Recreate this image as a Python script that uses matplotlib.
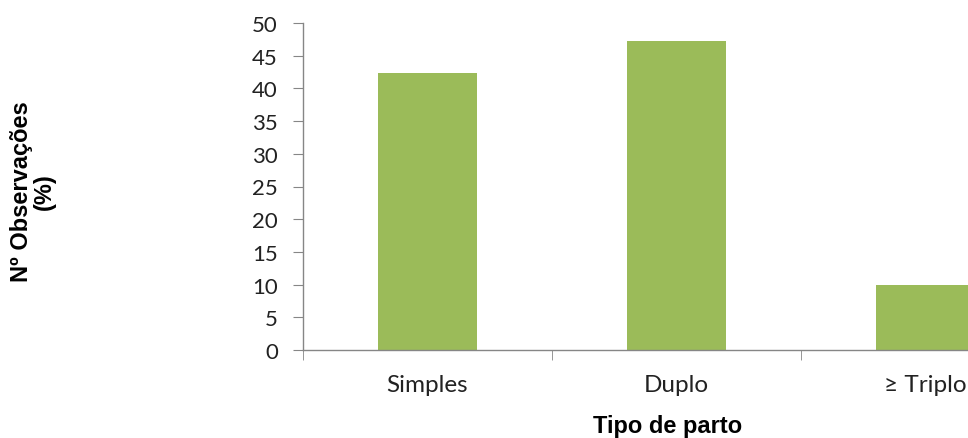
import matplotlib
matplotlib.use("Agg")
import matplotlib.pyplot as plt
import numpy as np

categories = ["Simples", "Duplo", "\u2265 Triplo"]
values = [42.4, 47.3, 10.0]
yticks = [0, 5, 10, 15, 20, 25, 30, 35, 40, 45, 50]

fig = plt.figure(figsize=(9.68, 4.39), dpi=100)
W, H = 968, 439
x0, x1 = 303, 1050
y0, y1 = 351, 24
ax = fig.add_axes([x0 / W, 1 - y0 / H, (x1 - x0) / W, (y0 - y1) / H])

pos = np.arange(len(categories))
ax.bar(pos, values, width=0.4, color="#9BBB59")
ax.set_xlim(-0.5, len(categories) - 0.5)
ax.set_ylim(0, 50)
ax.set_yticks(yticks)
ax.set_yticklabels([str(v) for v in yticks], fontsize=16, family="Lato", color="#222222")
ax.set_xticks(pos)
ax.set_xticklabels(categories, fontsize=17.5, family=["Lato", "DejaVu Sans"], color="#222222")
ax.tick_params(axis="x", length=0, pad=17)
ax.set_xticks(np.arange(-0.5, len(categories), 1.0), minor=True)
ax.tick_params(axis="x", which="minor", length=7, color="#868686", direction="out")
ax.tick_params(axis="y", length=7, color="#868686", direction="out", pad=11)

for s in ["top", "right"]:
    ax.spines[s].set_visible(False)
for s in ["left", "bottom"]:
    ax.spines[s].set_color("#868686")
    ax.spines[s].set_linewidth(1.0)

fig.text(33 / W, 1 - 192 / H, "N\u00ba Observa\u00e7\u00f5es\n(%)", rotation=90,
         ha="center", va="center", fontsize=17, fontweight="bold",
         family="Liberation Sans", linespacing=1.0, multialignment="center")
fig.text(668 / W, 1 - 433 / H, "Tipo de parto", ha="center", va="baseline",
         fontsize=17, fontweight="bold", family="Liberation Sans")

fig.savefig("out.png", dpi=100)
